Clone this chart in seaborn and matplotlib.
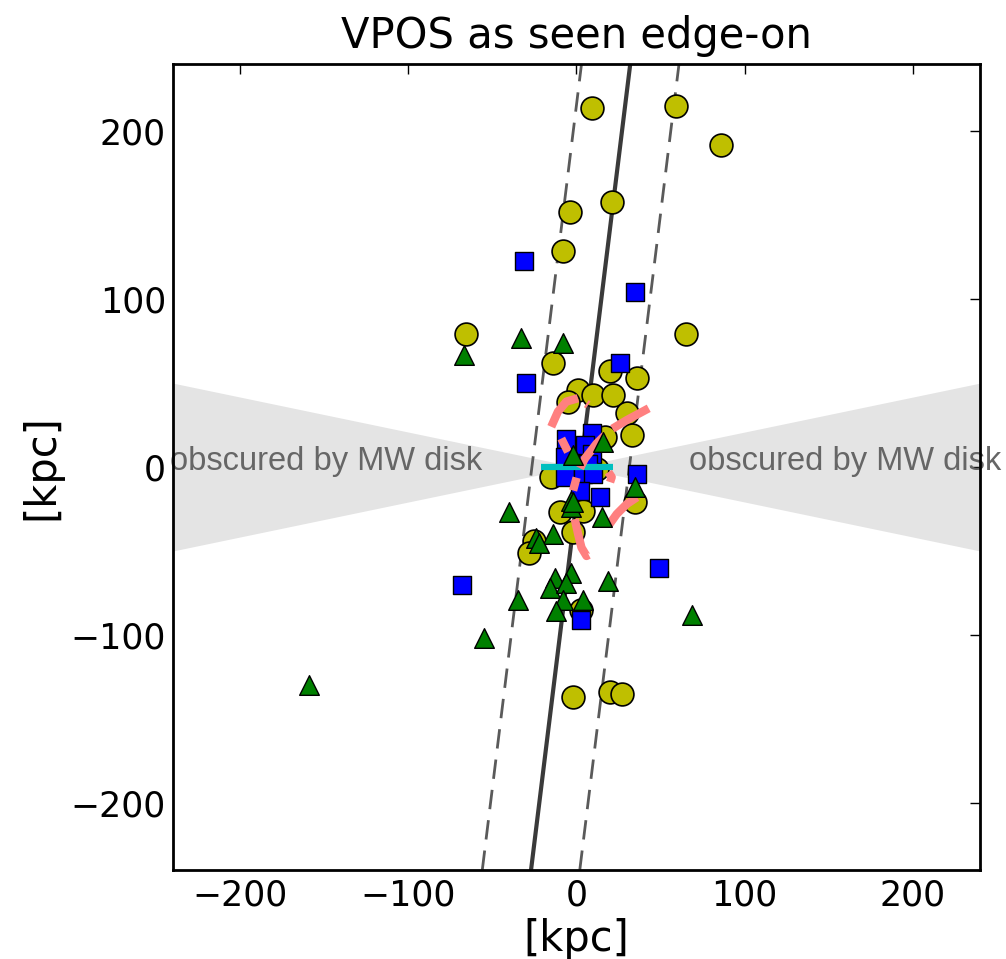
import numpy as np
import pandas as pd
import matplotlib
matplotlib.use("Agg")
import matplotlib.pyplot as plt
import seaborn as sns

# ---- data (kpc) ----
circ_x = [9, 59, 86, 21, -4, -8, -66, 65, -14, 20, 36, 1, 10, 22, -5, 30, 33, 17,
          -15, 12, 35, -10, 4, -2, -25, -28, 3, -2, 20, 27]
circ_y = [214, 215, 192, 158, 152, 129, 79, 79, 62, 57, 53, 46, 43, 43, 39, 32, 19, 18,
          -6, -1, -21, -27, -26, -39, -44, -51, -85, -137, -134, -135]

sq_x = [-31, 35, -30, 26, -68, 49, 3, 36, -6, 9, 5, -7, 9, 7, -7, 4, 10, 2, 14]
sq_y = [123, 104, 50, 62, -70, -60, -91, -4, 17, 20, 13, 6, 8, 2, -6, -4, -4, -14, -18]

tri_x = [-67, -33, -8, -159, -55, -35, -40, 69, 19, 16, -2, 35, -3, -3, -2, 15,
         -14, -24, -22, -13, -3, -16, -6, -8, 4, -12]
tri_y = [67, 77, 74, -130, -102, -79, -27, -88, -68, 15, 7, -12, -20, -24, -21, -30,
         -40, -42, -45, -66, -63, -72, -69, -79, -79, -86]

# plane fit (centre line) and its rms width
plane_x = [-27, 32]
plane_y = [-240, 240]
plane_width = 29

# MW disk obscuration wedge
disk_x = [-240, 0, 240]
disk_half = [50, 0, 50]

# MW disk (cyan)
mw_x = [-21, 22]
mw_y = [0, 0]

# streams (salmon)
streams = [
    ([-15, -11, -6, 1, 7], [24, 33, 39, 41, 37]),
    ([43, 30, 20, 12, 5, 1, -2], [35, 28, 22, 14, 5, -3, -14]),
    ([-9, -5], [17, 9]),
    ([36, 30, 24, 19], [-18, -22, -28, -35]),
    ([-1, 1, 3, 6, 10], [-31, -40, -48, -53, -51]),
    ([19, 21, 20], [-3, -6, -9]),
]

ticks = [-200, -100, 0, 100, 200]
lim = 240

sns.set_style("white")
plt.rcParams["font.family"] = ["DejaVu Sans"]
plt.rcParams["text.color"] = "black"
plt.rcParams["axes.labelcolor"] = "black"
plt.rcParams["xtick.color"] = "black"
plt.rcParams["ytick.color"] = "black"

fig = plt.figure(figsize=(10.06, 9.59), dpi=100)
ax = fig.add_axes([0.172, 0.093, 0.802, 0.840])

ax.fill_between(disk_x, [-v for v in disk_half], disk_half, color="#e4e4e4",
                linewidth=0, zorder=0)
for xc in (-149, 160):
    ax.text(xc, 3, "obscured by MW disk", ha="center", va="center", fontsize=23.5,
            color="#666666", family="Liberation Sans", clip_on=False, zorder=1)

ax.plot(plane_x, plane_y, color="#3a3a3a", lw=3, zorder=2)
for off in (-plane_width, plane_width):
    ax.plot([v + off for v in plane_x], plane_y, color="#5a5a5a", lw=2,
            dashes=(7, 4), zorder=2)

df_c = pd.DataFrame({"x": circ_x, "y": circ_y})
df_s = pd.DataFrame({"x": sq_x, "y": sq_y})
df_t = pd.DataFrame({"x": tri_x, "y": tri_y})

sns.scatterplot(data=df_c, x="x", y="y", ax=ax, marker="o", s=270,
                color=(0.75, 0.75, 0), edgecolor="black", linewidth=1.2, zorder=3)
sns.scatterplot(data=df_s, x="x", y="y", ax=ax, marker="s", s=150,
                color="blue", edgecolor="black", linewidth=1.0, zorder=4)

ax.plot(mw_x, mw_y, color=(0, 0.75, 0.75), lw=4.5, zorder=5, solid_capstyle="butt")
for sx, sy in streams:
    ax.plot(sx, sy, color="#ff8080", lw=6, dashes=(5, 1.2), zorder=6)

sns.scatterplot(data=df_t, x="x", y="y", ax=ax, marker="^", s=200,
                color="green", edgecolor="black", linewidth=1.0, zorder=7)

ax.set_xlim(-lim, lim)
ax.set_ylim(-lim, lim)
ax.set_xticks(ticks)
ax.set_yticks(ticks)
ax.tick_params(direction="in", length=7, width=1, labelsize=25,
               top=True, right=True)
ax.tick_params(axis="x", pad=6)
ax.tick_params(axis="y", pad=5)
for sp in ax.spines.values():
    sp.set_linewidth(2)
    sp.set_color("black")
ax.set_xlabel("[kpc]", fontsize=30, labelpad=4)
ax.set_ylabel("[kpc]", fontsize=30, labelpad=6)
ax.set_title("VPOS as seen edge-on", fontsize=30, pad=12)

fig.savefig("out.png", dpi=100)
